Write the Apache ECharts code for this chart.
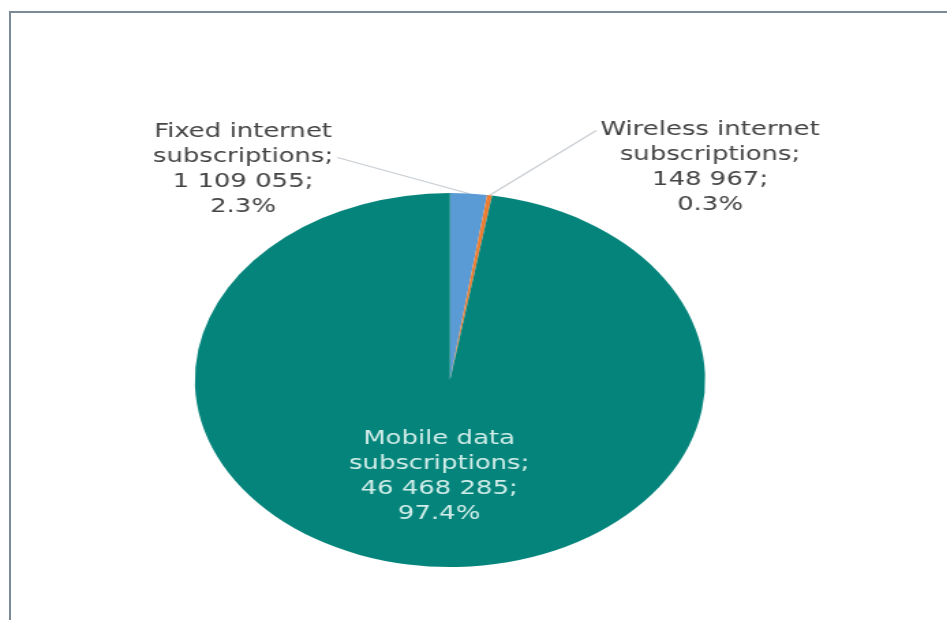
<!DOCTYPE html>
<html>
<head>
<meta charset="utf-8">
<script src="https://cdn.jsdelivr.net/npm/echarts@6/dist/echarts.min.js"></script>
<style>
  html, body { margin: 0; padding: 0; background: #ffffff; overflow: hidden; width: 947px; height: 620px; }
  #frame { position: absolute; left: 9px; top: 11px; width: 1000px; height: 700px; border: 2px solid #7b8a97; box-sizing: border-box; }
  /* the pie is drawn round and then widened horizontally */
  #chart { position: absolute; left: 0; top: 0; width: 694px; height: 620px; transform: scaleX(1.3646); transform-origin: 0 0; }
</style>
</head>
<body>
<div id="frame"></div>
<div id="chart"></div>
<script>
// Internet subscriptions by type
const categories = ['Fixed internet subscriptions', 'Wireless internet subscriptions', 'Mobile data subscriptions'];
const subscriptions = [1109055, 148967, 46468285];
const sliceColors = ['#5b9bd5', '#ed7d31', '#05847b'];

const STRETCH = 1.3646;

function groupThousands(v) {
  return String(v).replace(/\B(?=(\d{3})+(?!\d))/g, ' ');
}

function labelText(p) {
  const name = p.name.replace(' subscriptions', '\nsubscriptions');
  return name + ';\n' + groupThousands(p.value) + ';\n' + p.percent.toFixed(1) + '%';
}

const pieData = categories.map((name, i) => {
  const item = { name: name, value: subscriptions[i], itemStyle: { color: sliceColors[i] } };
  if (i === 2) {
    item.label = { position: 'inside', color: '#d3eeea' };
    item.labelLine = { show: false };
  }
  return item;
});

// where the outside labels sit (in unstretched chart pixels)
const outsideLabels = {
  0: { cx: 243 / STRETCH, cy: 170, side: 'right', line: 1 },
  1: { cx: 710 / STRETCH, cy: 168, side: 'left', line: 0 }
};

const chart = echarts.init(document.getElementById('chart'), null, { renderer: 'canvas' });
chart.setOption({
  animation: false,
  backgroundColor: 'transparent',
  series: [{
    type: 'pie',
    center: [450 / STRETCH, 380],
    radius: 187,
    startAngle: 90,
    clockwise: true,
    avoidLabelOverlap: false,
    itemStyle: { borderWidth: 0 },
    label: {
      show: true,
      position: 'outside',
      formatter: labelText,
      fontFamily: 'DejaVu Sans',
      fontSize: 19,
      lineHeight: 25,
      color: '#444444',
      align: 'center'
    },
    labelLine: {
      show: true,
      length: 20,
      length2: 0,
      smooth: false,
      lineStyle: { color: '#c8cdd2', width: 1.2 }
    },
    labelLayout: function (params) {
      const spec = outsideLabels[params.dataIndex];
      if (!spec) return {};
      const w = params.labelRect.width;
      const h = params.labelRect.height;
      const top = spec.cy - h / 2;
      const lineY = top + 25 * spec.line + 12.5;
      const endX = spec.side === 'right' ? spec.cx + w / 2 + 3 : spec.cx - w / 2 - 3;
      const start = params.labelLinePoints ? params.labelLinePoints[0] : null;
      const out = { x: spec.cx, y: spec.cy, align: 'center', verticalAlign: 'middle' };
      if (start) out.labelLinePoints = [start, [endX, lineY]];
      return out;
    },
    data: pieData
  }]
});
</script>
</body>
</html>
